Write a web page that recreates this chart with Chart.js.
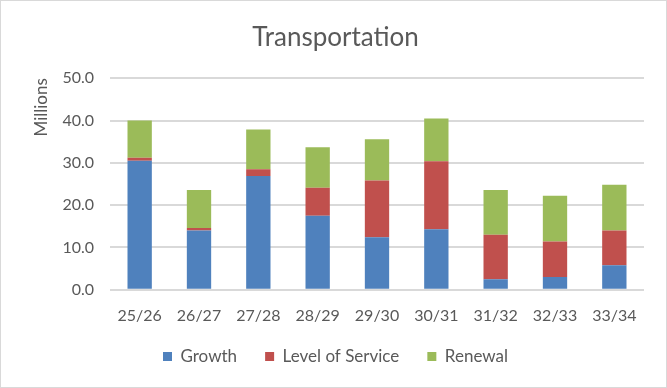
<!DOCTYPE html>
<html>
<head>
<meta charset="utf-8">
<script src="https://cdn.jsdelivr.net/npm/chart.js@4"></script>
<style>
  body { margin: 0; background: #fff; }
  .frame { width: 667px; height: 388px; box-sizing: border-box; border: 1px solid #d9d9d9; }
  canvas { display: block; }
</style>
</head>
<body>
<div class="frame"><canvas id="chart" width="665" height="386"></canvas></div>
<script>
const years = ["25/26", "26/27", "27/28", "28/29", "29/30", "30/31", "31/32", "32/33", "33/34"];
const growth = [30.5, 14.0, 26.9, 17.5, 12.4, 14.3, 2.5, 3.0, 5.8];
const levelOfService = [0.7, 0.6, 1.6, 6.6, 13.4, 16.1, 10.5, 8.4, 8.2];
const renewal = [8.8, 9.0, 9.4, 9.6, 9.8, 10.1, 10.6, 10.8, 10.8];

const textColor = "#595959";
const fontFamily = "Lato, 'Open Sans', sans-serif";

const chartCanvas = document.getElementById("chart");

new Chart(chartCanvas, {
  type: "bar",
  data: {
    labels: years,
    datasets: [
      { label: "Growth", data: growth, backgroundColor: "#4f81bd" },
      { label: "Level of Service", data: levelOfService, backgroundColor: "#c0504d" },
      { label: "Renewal", data: renewal, backgroundColor: "#9bbb59" },
    ],
  },
  options: {
    responsive: false,
    animation: false,
    layout: {
      padding: { left: 26, right: 22, top: 12, bottom: 12 },
    },
    datasets: {
      bar: { categoryPercentage: 1, barPercentage: 0.41 },
    },
    plugins: {
      title: {
        display: true,
        text: "Transportation",
        color: textColor,
        font: { family: fontFamily, size: 26, weight: "normal" },
        padding: { top: 9, bottom: 25 },
      },
      legend: {
        position: "bottom",
        labels: {
          color: textColor,
          font: { family: fontFamily, size: 17 },
          boxWidth: 9,
          boxHeight: 9,
          padding: 15,
          // extra gap between items, like the original legend
          generateLabels: (chart) => {
            const labels = Chart.defaults.plugins.legend.labels.generateLabels(chart);
            labels.forEach((l, i) => {
              if (i < labels.length - 1) l.text = l.text + "   ";
            });
            return labels;
          },
        },
      },
      tooltip: { enabled: false },
    },
    scales: {
      x: {
        stacked: true,
        grid: { display: false },
        border: { display: false },
        ticks: {
          color: textColor,
          font: { family: fontFamily, size: 16 },
          padding: 8,
          maxRotation: 0,
        },
      },
      y: {
        stacked: true,
        min: 0,
        max: 50,
        afterFit: (scale) => {
          scale.width = 83;
        },
        grid: { color: "#d9d9d9", lineWidth: 2, drawTicks: false },
        border: { display: false },
        ticks: {
          stepSize: 10,
          color: textColor,
          font: { family: fontFamily, size: 16 },
          padding: 16,
          callback: (value) => value.toFixed(1),
        },
        title: {
          display: true,
          text: "Millions",
          align: "end",
          color: textColor,
          font: { family: fontFamily, size: 17 },
          padding: { bottom: 0 },
        },
      },
    },
  },
});
</script>
</body>
</html>
